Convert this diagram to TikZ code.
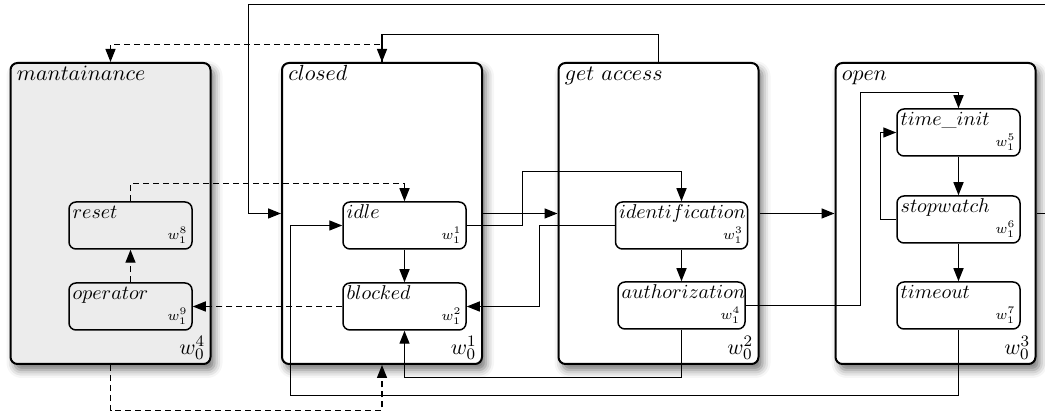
\documentclass[tikz,border=0pt]{standalone}
\usetikzlibrary{arrows.meta,calc,shadows.blur}
\definecolor{mgray}{RGB}{236,236,236}
\tikzset{
  x=0.5pt, y=-0.5pt,
  bigbox/.style={draw=black, line width=1pt, rounded corners=3.5pt, fill=white,
    minimum width=100pt, minimum height=150.5pt, inner sep=0pt,
    blur shadow={shadow xshift=2pt, shadow yshift=-3pt, shadow blur radius=4pt, shadow opacity=55}},
  smallbox/.style={draw=black, line width=0.75pt, rounded corners=3.5pt, fill=white,
    minimum height=23.5pt, inner sep=0pt},
  titletext/.style={anchor=base west, inner sep=0pt, font=\fontsize{10.95}{13}\selectfont},
  innertext/.style={anchor=base west, inner sep=0pt, font=\fontsize{10}{12}\selectfont},
  biglab/.style={anchor=south east, inner sep=0pt, font=\fontsize{10.95}{13}\selectfont},
  smalllab/.style={anchor=south east, inner sep=0pt, font=\fontsize{7}{8}\selectfont},
  conn/.style={line width=0.72pt, -{Triangle[length=6.5pt,width=5pt]}},
  dconn/.style={conn, dash pattern=on 3pt off 2pt},
}
\newcommand{\bigstate}[5][]{%
  \node[bigbox,#1] (#2) at (#3,213.5) {};
  \node[titletext] (#2-t) at ($(#2.north west)+(7,19)$) {$#4$};
  \node[biglab] (#2-w) at ($(#2.south east)+(-6,-5)$) {$w_0^{#5}$};
}
\newcommand{\smallstate}[7][]{%
  \node[smallbox,minimum width=#5,#1] (#2) at (#3,#4) {};
  \node[innertext] (#2-t) at ($(#2.north west)+(4,17)$) {$#6$};
  \node[smalllab] (#2-w) at ($(#2.south east)+(-5,-6)$) {$w_1^{#7}$};
}
\begin{document}
\begin{tikzpicture}
\useasboundingbox (0,0) rectangle (1045,415);
% big states
\bigstate[fill=mgray]{mant}{110.5}{mantainance}{4}
\bigstate{closed}{382}{closed}{1}
\bigstate{get}{658.5}{get\ access}{2}
\bigstate{open}{935.5}{open}{3}
% inner states
\smallstate[fill=mgray]{reset}{130.5}{225.5}{61.5pt}{reset}{8}
\smallstate[fill=mgray]{operator}{130.5}{306.5}{61.5pt}{operator}{9}
\smallstate{idle}{404.5}{225.5}{61.5pt}{idle}{1}
\smallstate{blocked}{404.5}{306.5}{61.5pt}{blocked}{2}
\smallstate{ident}{681.5}{225.5}{66pt}{identification}{3}
\smallstate{auth}{681.5}{305.5}{63.5pt}{authorization}{4}
\smallstate{timeinit}{958.5}{132.5}{61.5pt}{time\_init}{5}
\smallstate{stopwatch}{958.5}{219.5}{61.5pt}{stopwatch}{6}
\smallstate{timeout}{958.5}{305.5}{61.5pt}{timeout}{7}
% connectors
\draw[conn] (open.east) -- ++(14,0) |- (248.5,4.5) |- (closed.west);
\draw[conn] (get.north) -- ++(0,-27.5) -| (closed.north);
\draw[dconn] (closed.north) -- ++(0,-17.5) -| (mant.north);
\draw[dconn] (mant.south) -- ++(0,45.5) -| (closed.south);
\draw[dconn] (reset.north) -- ++(0,-17.5) -| (idle.north);
\draw[dconn] (operator.north) -- (reset.south);
\draw[dconn] (blocked.west) -- (operator.east);
\draw[conn] (idle.south) -- (blocked.north);
\draw[conn] (idle.east) -| (522.5,171.5) -| (ident.north);
\draw[conn] (closed.east) -- (get.west);
\draw[conn] (ident.west) -- ++(-75,0) |- (blocked.east);
\draw[conn] (ident.south) -- (auth.north);
\draw[conn] (auth.south) -- ++(0,47.5) -| (blocked.south);
\draw[conn] (get.east) -- (open.west);
\draw[conn] (auth.east) -| (860.5,92.5) -| (timeinit.north);
\draw[conn] (stopwatch.west) -- ++(-16,0) |- (timeinit.west);
\draw[conn] (timeinit.south) -- (stopwatch.north);
\draw[conn] (stopwatch.south) -- (timeout.north);
\draw[conn] (timeout.south) |- (290.5,395.5) |- (idle.west);
\end{tikzpicture}
\end{document}
